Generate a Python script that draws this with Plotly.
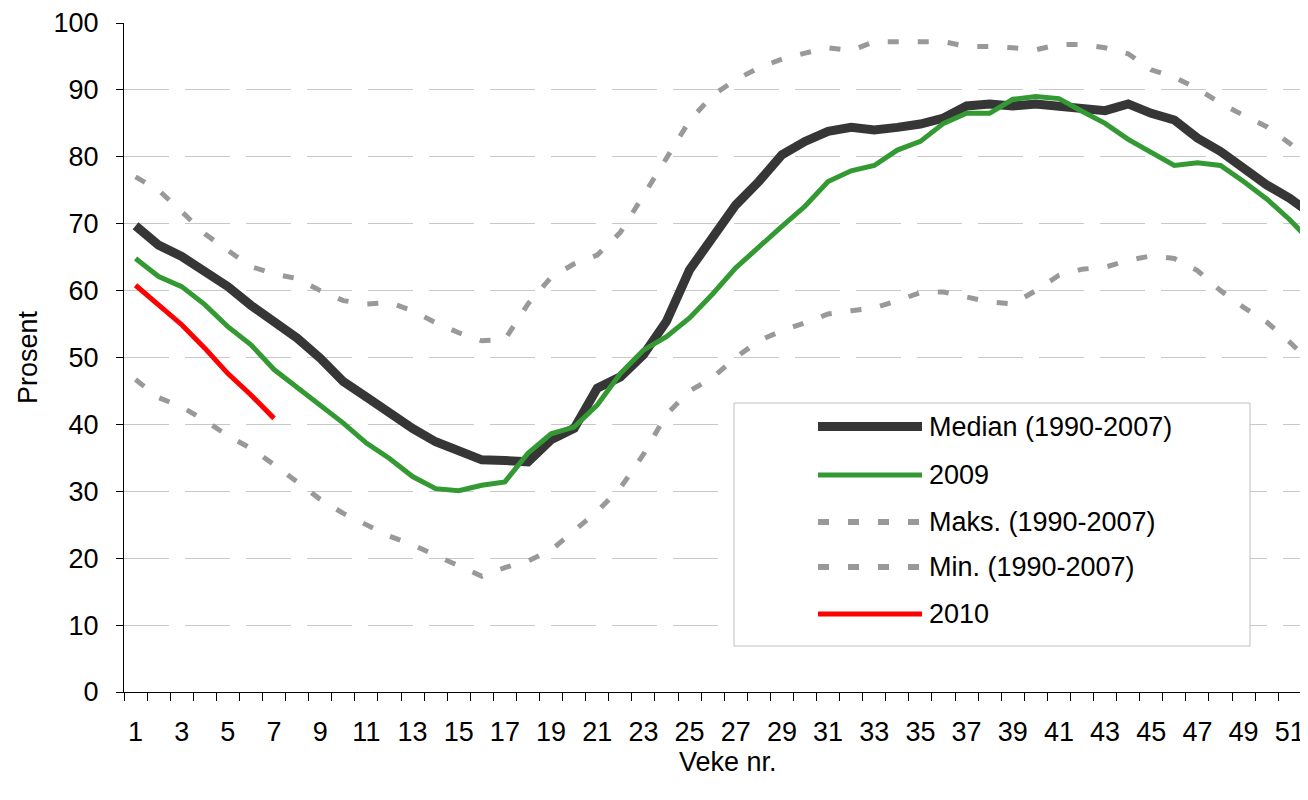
import plotly.graph_objects as go

# ---- data ----
weeks = list(range(1, 53))
median = [69.7, 66.8, 65.1, 62.8, 60.6, 57.8, 55.4, 52.9, 49.9, 46.4,
          44.1, 41.7, 39.4, 37.4, 35.9, 34.7, 34.6, 34.4, 37.7, 39.4,
          45.4, 47.1, 50.4, 55.4, 63.1, 68.1, 72.8, 76.3, 80.3, 82.3,
          83.8, 84.4, 84.0, 84.4, 84.9, 85.8, 87.6, 87.9, 87.6, 87.9,
          87.5, 87.1, 86.9, 87.9, 86.5, 85.5, 82.8, 80.8, 78.3, 75.8,
          73.8, 71.3]
y2009 = [64.8, 62.1, 60.6, 57.9, 54.6, 51.9, 48.2, 45.6, 42.9, 40.2,
         37.2, 34.9, 32.2, 30.4, 30.1, 30.9, 31.4, 35.7, 38.6, 39.6,
         42.9, 47.6, 51.1, 53.1, 55.9, 59.5, 63.4, 66.6, 69.6, 72.6,
         76.3, 77.9, 78.7, 81.0, 82.3, 85.0, 86.5, 86.5, 88.6, 89.0,
         88.7, 86.8, 85.0, 82.6, 80.6, 78.7, 79.1, 78.7, 76.3, 73.7,
         70.6, 67.0]
maks = [77.0, 75.0, 71.8, 68.5, 66.0, 63.6, 62.5, 61.8, 60.0, 58.5,
        58.0, 58.2, 57.0, 55.2, 53.7, 52.5, 52.7, 58.0, 62.0, 64.0,
        65.3, 68.7, 74.2, 79.8, 85.4, 89.2, 91.5, 93.3, 94.6, 95.5,
        96.3, 95.9, 97.2, 97.2, 97.2, 97.2, 96.5, 96.5, 96.3, 96.0,
        96.8, 96.8, 96.3, 95.4, 93.0, 91.9, 90.2, 88.0, 86.2, 84.5,
        82.0, 79.0]
mins = [46.7, 44.0, 42.6, 40.6, 38.3, 36.4, 34.0, 31.5, 28.8, 26.7,
        25.0, 23.3, 22.0, 20.5, 18.9, 17.3, 18.6, 19.6, 21.2, 24.0,
        27.0, 30.5, 35.5, 41.5, 45.0, 47.0, 50.0, 52.5, 54.0, 55.2,
        56.5, 57.0, 57.4, 58.5, 59.7, 59.8, 59.0, 58.3, 58.0, 60.0,
        62.3, 63.2, 63.5, 64.5, 65.2, 64.8, 63.0, 60.0, 57.5, 55.3,
        52.3, 49.0]
weeks2010 = [1, 2, 3, 4, 5, 6, 7]
y2010 = [60.8, 57.9, 54.9, 51.4, 47.6, 44.4, 40.9]

tick_weeks = list(range(1, 52, 2))
tick_text = [str(w) for w in tick_weeks]
legend_names = ["Median (1990-2007)", "2009", "Maks. (1990-2007)",
                "Min. (1990-2007)", "2010"]

# ---- styles ----
FONT = "Arial, 'Liberation Sans', sans-serif"
FS = 27
C_MED = "#363636"
C_GREEN = "#339933"
C_GREY = "#999999"
C_RED = "#ff0000"
DASH = "11px,19px"

# page body has an 8px margin: compensate so the plot lands where wanted
OX, OY = 8, 8
W, H = 1308 - OX, 800 - OY
L, R, T, B = 124 - OX, 0, 23 - OY, 108
pw = W - L - R
ph = H - T - B


def px2x(px):
    return (px - OX - L) / pw


def py2y(py):
    return (H - B - (py - OY)) / ph


fig = go.Figure()
fig.add_trace(go.Scatter(x=weeks, y=maks, mode="lines", name=legend_names[2],
                         line=dict(color=C_GREY, width=5, dash=DASH)))
fig.add_trace(go.Scatter(x=weeks, y=mins, mode="lines", name=legend_names[3],
                         line=dict(color=C_GREY, width=5, dash=DASH)))
fig.add_trace(go.Scatter(x=weeks, y=median, mode="lines", name=legend_names[0],
                         line=dict(color=C_MED, width=9)))
fig.add_trace(go.Scatter(x=weeks, y=y2009, mode="lines", name=legend_names[1],
                         line=dict(color=C_GREEN, width=5)))
fig.add_trace(go.Scatter(x=weeks2010, y=y2010, mode="lines", name=legend_names[4],
                         line=dict(color=C_RED, width=5)))

# ---- custom legend (box, samples, labels) ----
shapes = [dict(type="rect", xref="paper", yref="paper",
               x0=px2x(734), x1=px2x(1250), y0=py2y(646), y1=py2y(403),
               line=dict(color="#bfbfbf", width=1), fillcolor="white",
               layer="above")]
leg_y = [426.5, 475, 522, 567, 614]
leg_style = [(C_MED, 9, "solid"), (C_GREEN, 5, "solid"), (C_GREY, 6, DASH),
             (C_GREY, 6, DASH), (C_RED, 5, "solid")]
annotations = []
for name, yy, (c, w, d) in zip(legend_names, leg_y, leg_style):
    shapes.append(dict(type="line", xref="paper", yref="paper",
                       x0=px2x(818), x1=px2x(922), y0=py2y(yy), y1=py2y(yy),
                       line=dict(color=c, width=w, dash=d), layer="above"))
    annotations.append(dict(text=name, xref="paper", yref="paper",
                            x=px2x(927), y=py2y(yy), xanchor="left",
                            yanchor="middle", showarrow=False,
                            font=dict(family=FONT, size=FS, color="black")))

# axis titles
annotations.append(dict(text="Prosent", xref="paper", yref="paper",
                        x=px2x(28), y=py2y(357), textangle=-90,
                        xanchor="center", yanchor="middle", showarrow=False,
                        font=dict(family=FONT, size=FS, color="black")))
annotations.append(dict(text="Veke nr.", xref="paper", yref="paper",
                        x=px2x(728), y=py2y(762), xanchor="center",
                        yanchor="middle", showarrow=False,
                        font=dict(family=FONT, size=FS, color="black")))

fig.update_layout(
    width=W, height=H,
    margin=dict(l=L, r=R, t=T, b=B, pad=0, autoexpand=False),
    paper_bgcolor="white", plot_bgcolor="white",
    showlegend=False,
    font=dict(family=FONT, size=FS, color="black"),
    shapes=shapes, annotations=annotations,
)
fig.update_xaxes(
    range=[0.5, 51.79], tickmode="array", tickvals=tick_weeks,
    ticktext=tick_text, ticks="", showgrid=False, zeroline=False,
    showline=True, linecolor="black", linewidth=1.3, automargin=False,
    ticklabelstandoff=15,
    minor=dict(tickmode="linear", tick0=0.5, dtick=1, ticks="outside",
               ticklen=8, tickwidth=1, tickcolor="black", showgrid=False),
    tickfont=dict(family=FONT, size=FS),
)
fig.update_yaxes(
    range=[0, 100], tickmode="linear", tick0=0, dtick=10,
    ticks="outside", ticklen=7, tickwidth=1, tickcolor="black",
    showline=True, linecolor="black", linewidth=1.3, zeroline=False,
    showgrid=True, gridcolor="#c8c8c8", gridwidth=1, griddash="45px,16px",
    ticklabelstandoff=12, automargin=False,
    tickfont=dict(family=FONT, size=FS),
)

fig.write_html("out.html")
